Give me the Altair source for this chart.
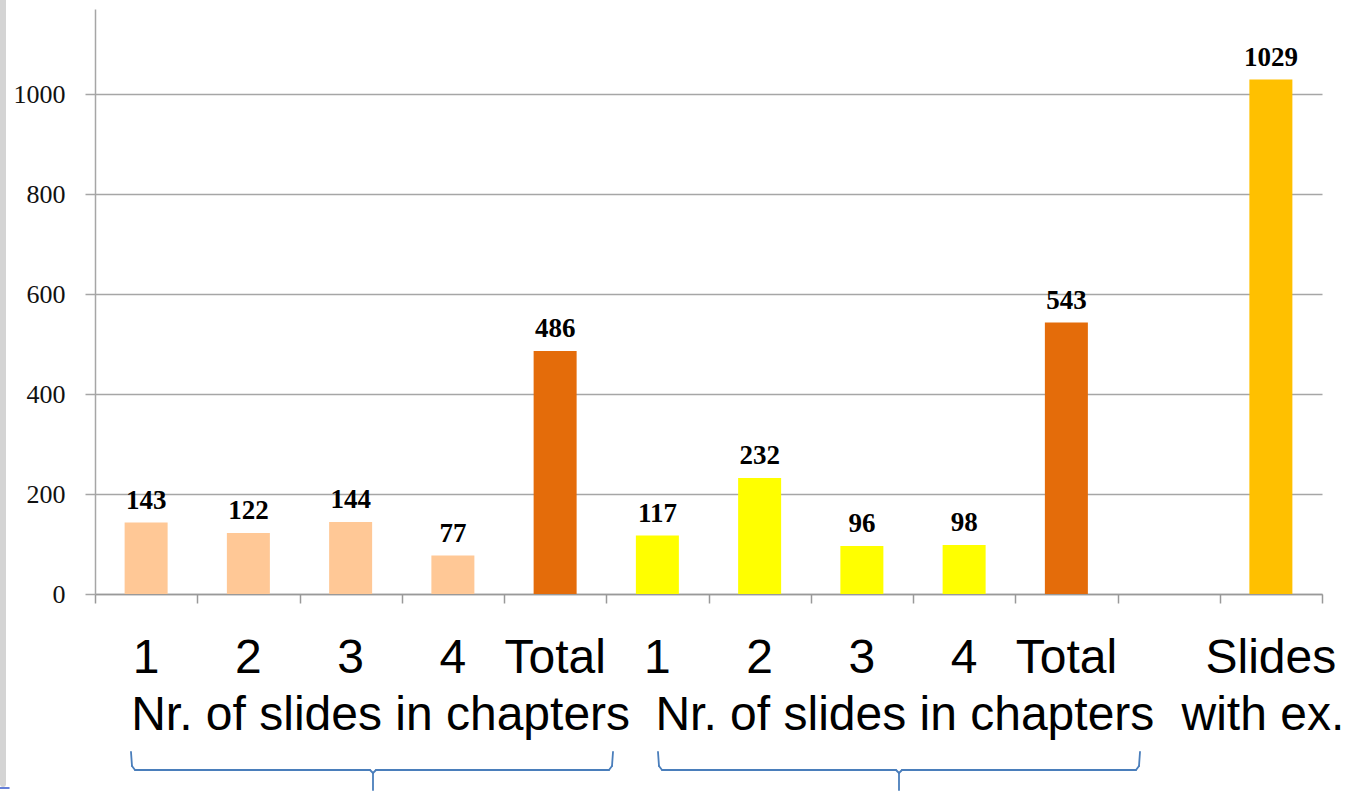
import altair as alt
import pandas as pd

# ---- data ----
keys = ["a1", "a2", "a3", "a4", "aT", "b1", "b2", "b3", "b4", "bT", "gap", "ex"]
tick_labels = ["1", "2", "3", "4", "Total", "1", "2", "3", "4", "Total", "", "Slides"]
values = [143, 122, 144, 77, 486, 117, 232, 96, 98, 543, None, 1029]
kinds = ["ch1", "ch1", "ch1", "ch1", "total", "ch2", "ch2", "ch2", "ch2", "total", "none", "ex"]
kind_names = ["ch1", "total", "ch2", "ex"]
kind_colors = ["#FFC896", "#E46C0A", "#FFFF00", "#FFC000"]
group_labels = ["Nr. of slides in chapters", "Nr. of slides in chapters", "with ex."]
group_anchor = ["a3", "b3", "ex"]
y_ticks = [0, 200, 400, 600, 800, 1000]

W, H = 1227, 585
PAD = {"left": 95, "top": 9, "right": 33, "bottom": 199}

df = pd.DataFrame({"key": keys, "label": tick_labels, "value": values, "kind": kinds})
bars_df = df.dropna(subset=["value"])

xscale = alt.Scale(domain=keys, paddingInner=0, paddingOuter=0)
yscale = alt.Scale(domain=[0, 1170], nice=False, zero=True)

x_enc = alt.X("key:N", scale=xscale, sort=keys,
              axis=alt.Axis(title=None, labels=False, tickBand="extent", tickSize=9,
                            tickColor="#999999", tickWidth=1.5, domainColor="#999999",
                            domainWidth=1.5, grid=False))

base = alt.Chart(bars_df)

bars = base.mark_bar(width=43).encode(
    x=x_enc,
    y=alt.Y("value:Q", scale=yscale,
            axis=alt.Axis(title=None, values=y_ticks, format="d", grid=True, gridColor="#A6A6A6",
                          gridWidth=1.5, tickSize=10, tickColor="#A6A6A6", tickWidth=1.5,
                          domainColor="#A6A6A6", domainWidth=1.5, labelPadding=20,
                          labelFont="Liberation Serif", labelFontSize=26,
                          labelColor="#111111")),
    color=alt.Color("kind:N", scale=alt.Scale(domain=kind_names, range=kind_colors), legend=None),
)

value_text = base.mark_text(font="Liberation Serif", fontSize=27, fontWeight="bold",
                            baseline="alphabetic", dy=-14, color="#000000").encode(
    x=alt.X("key:N", scale=xscale, sort=keys),
    y=alt.Y("value:Q", scale=yscale),
    text=alt.Text("value:Q", format="d"),
)

row1 = alt.Chart(df).mark_text(font="Liberation Sans", fontSize=48, baseline="alphabetic",
                               color="#000000").encode(
    x=alt.X("key:N", scale=xscale, sort=keys),
    y=alt.value(664),
    text="label:N",
)

layers = [bars, value_text, row1]

shifts = [30, 43, -8]
for lab, anc, dx in zip(group_labels, group_anchor, shifts):
    gdf = pd.DataFrame({"key": [anc], "label": [lab]})
    layers.append(
        alt.Chart(gdf).mark_text(font="Liberation Sans", fontSize=48, baseline="alphabetic",
                                 color="#000000", dx=dx).encode(
            x=alt.X("key:N", scale=xscale, sort=keys),
            y=alt.value(721),
            text="label:N",
        )
    )

dummy = pd.DataFrame({"d": [0]})


def seg(x1, x2, y1, y2, color="#4A7EBB", width=1.8):
    return alt.Chart(dummy).mark_rule(color=color, strokeWidth=width, strokeCap="round").encode(
        x=alt.value(x1), x2=alt.value(x2), y=alt.value(y1), y2=alt.value(y2))


# curly braces under the two chapter groups (decoration, in plot pixels)
for left, right, tip in [(36, 518, 278), (563, 1045, 804)]:
    layers += [
        seg(left, left + 1, 743, 757),
        seg(left + 1, left + 4, 757, 761),
        seg(left + 4, tip - 3, 761, 761),
        seg(tip - 3, tip, 761, 764),
        seg(tip + 3, tip, 761, 764),
        seg(tip + 3, right - 4, 761, 761),
        seg(right - 4, right - 1, 761, 757),
        seg(right - 1, right, 757, 743),
        seg(tip, tip, 764, 781),
    ]

# left gray strip and small blue dash of the original slide
layers.append(seg(-92, -92, -9, 775, color="#D4D4D4", width=6))
layers.append(seg(-95, -86, 779, 779, color="#3355CC", width=1.5))

chart = alt.layer(*layers).properties(
    width=W, height=H,
    autosize=alt.AutoSizeParams(type="none"),
    padding=PAD,
    background="white",
).configure_view(stroke=None)

chart.save("out.html", embed_options={"renderer": "svg", "actions": False})
